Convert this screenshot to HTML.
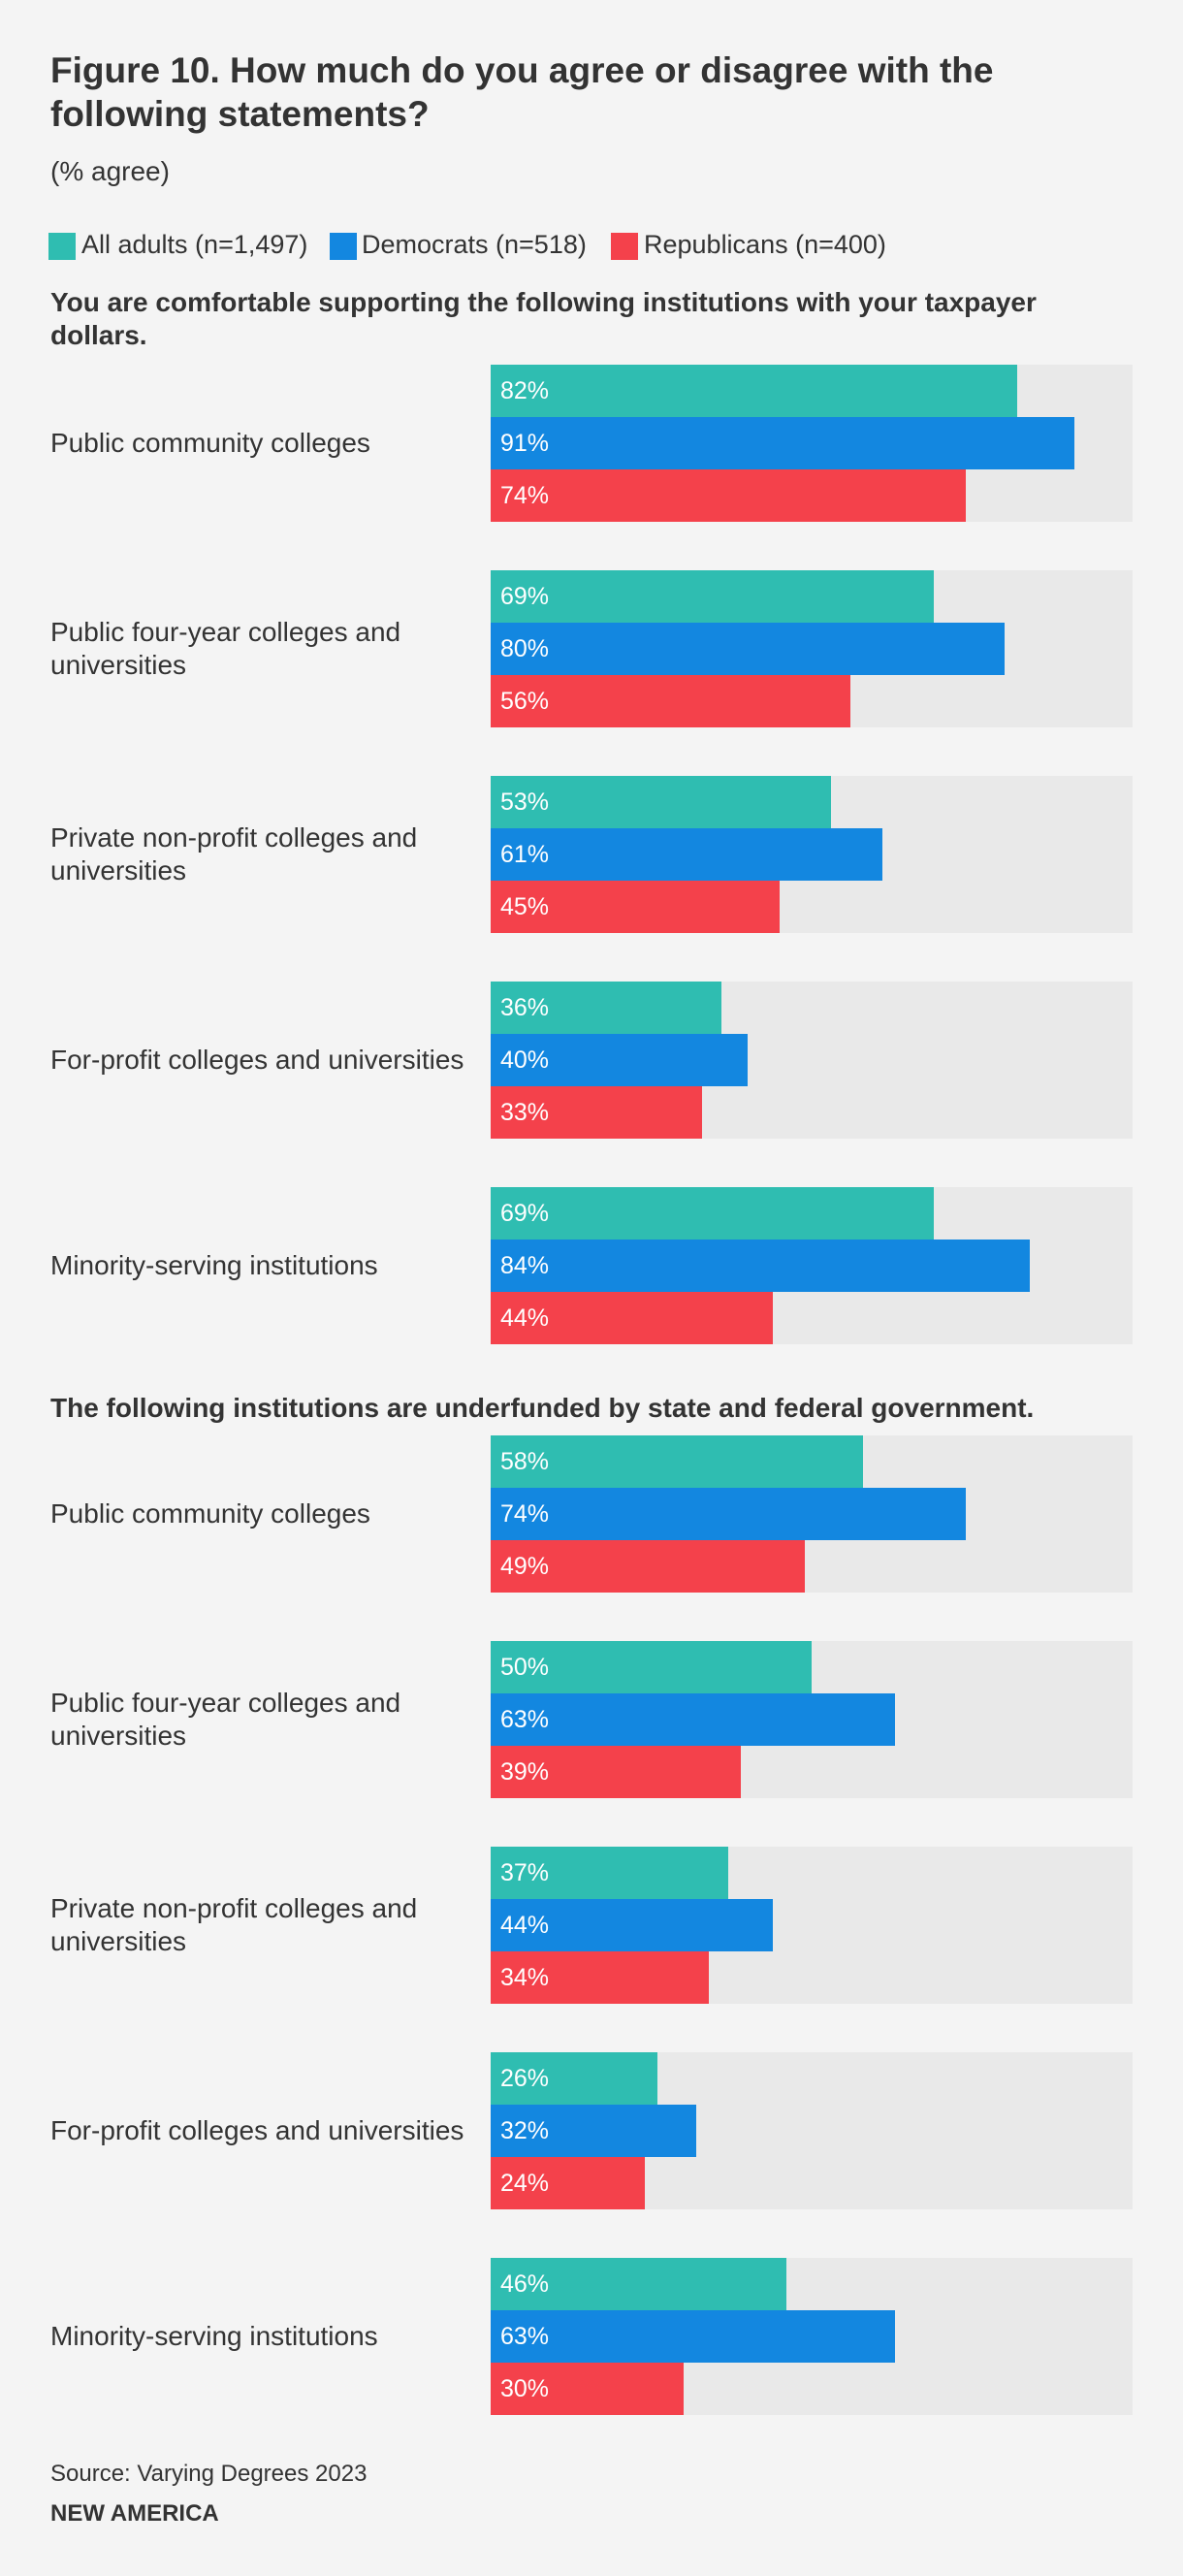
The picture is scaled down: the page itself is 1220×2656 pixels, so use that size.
<!DOCTYPE html>
<html><head><meta charset="utf-8">
<style>
body{margin:0;background:#f4f4f4;font-family:"Liberation Sans",sans-serif;color:#333;}
#root{position:relative;width:1220px;height:2656px;overflow:hidden;}
.abs{position:absolute;}
.title{left:52px;top:50px;font-size:37px;font-weight:bold;line-height:45px;width:1010px;}
.sub{left:52px;top:161px;font-size:28px;}
.leg{top:237px;font-size:27px;line-height:30px;}
.sw{width:28px;height:28px;top:240px;}
.sec{left:52px;font-size:28px;font-weight:bold;line-height:34px;width:1070px;}
.lab{left:52px;font-size:28px;line-height:34px;width:440px;}
.val{color:#fff;font-size:25px;line-height:54px;padding-left:10px;box-sizing:border-box;white-space:nowrap;}
</style></head>
<body><div id="root">
<div class="abs title">Figure 10. How much do you agree or disagree with the following statements?</div>
<div class="abs sub">(% agree)</div>
<div class="abs sw" style="left:50px;background:#2fbdb1"></div>
<div class="abs leg" style="left:84px">All adults (n=1,497)</div>
<div class="abs sw" style="left:340px;background:#1387e0"></div>
<div class="abs leg" style="left:373px">Democrats (n=518)</div>
<div class="abs sw" style="left:630px;background:#f4414b"></div>
<div class="abs leg" style="left:664px">Republicans (n=400)</div>
<div class="abs sec" style="top:295px">You are comfortable supporting the following institutions with your taxpayer dollars.</div>
<div class="abs sec" style="top:1435px">The following institutions are underfunded by state and federal government.</div>
<div class="abs" style="left:52px;top:2537px;font-size:24px">Source: Varying Degrees 2023</div>
<div class="abs" style="left:52px;top:2578px;font-size:24px;font-weight:bold">NEW AMERICA</div>
</div>
<script>
const categories=["Public community colleges","Public four-year colleges and universities","Private non-profit colleges and universities","For-profit colleges and universities","Minority-serving institutions"];
const s1All=[82,69,53,36,69];
const s1Dem=[91,80,61,40,84];
const s1Rep=[74,56,45,33,44];
const s2All=[58,50,37,26,46];
const s2Dem=[74,63,44,32,63];
const s2Rep=[49,39,34,24,30];
const X0=506,W=662,BH=54,GAP=212;
const colors=["#2fbdb1","#1387e0","#f4414b"];
const names=["all","dem","rep"];
const root=document.getElementById('root');
function x(v){return v/100*W;}
function section(top,series,sid){
  categories.forEach((c,i)=>{
    const gy=top+i*GAP;
    const bg=document.createElement('div');
    bg.className='abs';
    bg.style.cssText=`left:${X0}px;top:${gy}px;width:${W}px;height:${BH*3}px;background:#e9e9e9`;
    
    
    root.appendChild(bg);
    const lab=document.createElement('div');
    lab.className='abs lab';
    lab.textContent=c;
    root.appendChild(lab);
    
    
    lab.style.top=(gy+81-lab.offsetHeight/2)+'px';
    series.forEach((s,k)=>{
      const b=document.createElement('div');
      b.className='abs val';
      b.style.cssText=`left:${X0}px;top:${gy+k*BH}px;width:${x(s[i])}px;height:${BH}px;background:${colors[k]}`;
      b.textContent=s[i]+'%';
      
      
      root.appendChild(b);
    });
  });
}
section(376,[s1All,s1Dem,s1Rep],'s1');
section(1480,[s2All,s2Dem,s2Rep],'s2');
</script>
</body></html>
